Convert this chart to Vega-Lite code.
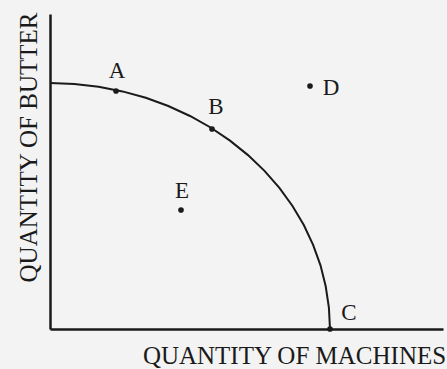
{
  "$schema": "https://vega.github.io/schema/vega-lite/v6.json",
  "width": 393,
  "height": 315,
  "autosize": "none",
  "padding": {"left": 50, "top": 14, "right": 4, "bottom": 40},
  "background": "#f3f3f3",
  "config": {
    "view": {"stroke": null},
    "font": "Liberation Serif"
  },
  "datasets": {
    "curve": [
      {"t": 0, "x": 280, "y": 0},
      {"t": 5, "x": 278.9, "y": 21.4},
      {"t": 10, "x": 275.7, "y": 42.7},
      {"t": 15, "x": 270.5, "y": 63.7},
      {"t": 20, "x": 263.1, "y": 84.1},
      {"t": 25, "x": 253.8, "y": 104.0},
      {"t": 30, "x": 242.5, "y": 123.0},
      {"t": 35, "x": 229.4, "y": 141.1},
      {"t": 40, "x": 214.5, "y": 158.1},
      {"t": 45, "x": 198.0, "y": 173.9},
      {"t": 50, "x": 180.0, "y": 188.4},
      {"t": 55, "x": 160.6, "y": 201.5},
      {"t": 60, "x": 140.0, "y": 213.0},
      {"t": 65, "x": 118.3, "y": 223.0},
      {"t": 70, "x": 95.8, "y": 231.2},
      {"t": 75, "x": 72.5, "y": 237.6},
      {"t": 80, "x": 48.6, "y": 242.3},
      {"t": 85, "x": 24.4, "y": 245.1},
      {"t": 90, "x": 0, "y": 246}
    ],
    "points": [
      {"label": "A", "x": 66, "y": 238, "lx": 67, "ly": 258},
      {"label": "B", "x": 162, "y": 200, "lx": 166, "ly": 222},
      {"label": "C", "x": 280, "y": 0, "lx": 299, "ly": 16},
      {"label": "D", "x": 260, "y": 243, "lx": 281, "ly": 241},
      {"label": "E", "x": 131, "y": 119, "lx": 132, "ly": 138}
    ]
  },
  "layer": [
    {
      "data": {"name": "curve"},
      "mark": {"type": "line", "color": "#1a1a1a", "strokeWidth": 2},
      "encoding": {
        "x": {
          "field": "x", "type": "quantitative",
          "scale": {"domain": [0, 393], "nice": false, "zero": false},
          "axis": {
            "title": "QUANTITY OF MACHINES",
            "labels": false, "ticks": false, "grid": false,
            "domainColor": "#1a1a1a", "domainWidth": 2.5,
            "titleFont": "Liberation Serif", "titleFontSize": 25, "titleFontWeight": "normal",
            "titleColor": "#1a1a1a",
            "titleX": 244, "titleY": 34, "titleAlign": "center", "titleBaseline": "alphabetic"
          }
        },
        "y": {
          "field": "y", "type": "quantitative",
          "scale": {"domain": [0, 315], "nice": false, "zero": false},
          "axis": {
            "title": "QUANTITY OF BUTTER",
            "labels": false, "ticks": false, "grid": false,
            "domainColor": "#1a1a1a", "domainWidth": 2.5,
            "titleFont": "Liberation Serif", "titleFontSize": 25, "titleFontWeight": "normal",
            "titleColor": "#1a1a1a", "titleAngle": -90,
            "titleX": -14, "titleY": 133, "titleAlign": "center", "titleBaseline": "alphabetic"
          }
        },
        "order": {"field": "t", "type": "quantitative"}
      }
    },
    {
      "data": {"name": "points"},
      "mark": {"type": "circle", "color": "#1a1a1a", "opacity": 1, "size": 32},
      "encoding": {
        "x": {"field": "x", "type": "quantitative"},
        "y": {"field": "y", "type": "quantitative"}
      }
    },
    {
      "data": {"name": "points"},
      "mark": {"type": "text", "font": "Liberation Serif", "fontSize": 23, "color": "#1a1a1a", "align": "center", "baseline": "middle"},
      "encoding": {
        "x": {"field": "lx", "type": "quantitative"},
        "y": {"field": "ly", "type": "quantitative"},
        "text": {"field": "label", "type": "nominal"}
      }
    }
  ]
}
